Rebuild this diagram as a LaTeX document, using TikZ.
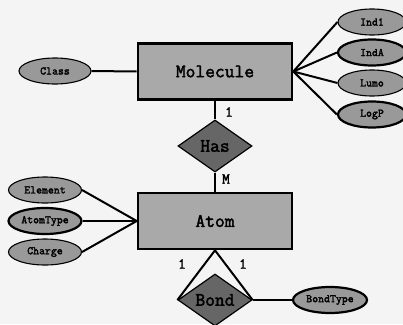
\documentclass[tikz,border=0pt]{standalone}
\usepackage{fontspec}
\newfontfamily\ermono[AutoFakeBold=2.2]{Latin Modern Mono}
\usetikzlibrary{shapes.geometric}
\definecolor{bgc}{HTML}{F4F4F4}
\definecolor{entfill}{HTML}{A9A9A9}
\definecolor{relfill}{HTML}{666666}
\definecolor{attfill}{HTML}{999999}
\tikzset{
  entity/.style={draw=black, line width=2.6pt, fill=entfill, minimum width=154pt, minimum height=56pt, inner sep=0pt, font=\ermono\bfseries\fontsize{19}{19}\selectfont},
  relation/.style={draw=black, line width=1.2pt, fill=relfill, shape=diamond, minimum width=74pt, minimum height=52pt, inner sep=0pt, aspect=1.42, font=\ermono\bfseries\fontsize{19}{19}\selectfont},
  attr/.style={draw=black, line width=1.1pt, fill=attfill, shape=ellipse, minimum width=72pt, minimum height=26pt, inner sep=0pt, font=\ermono\bfseries\fontsize{11.5}{11.5}\selectfont},
  keyattr/.style={attr, line width=2.2pt},
  link/.style={draw=black, line width=2pt},
  card/.style={font=\ermono\bfseries\fontsize{15}{15}\selectfont, inner sep=0pt}
}
\begin{document}
\begin{tikzpicture}[x=1pt,y=-1pt]
\fill[bgc] (0,0) rectangle (403,324);
\useasboundingbox (0,0) rectangle (403,324);
% entities
\node[entity] (mol) at (215,71.5) {Molecule};
\node[entity] (atom) at (215,221) {Atom};
% relations
\node[relation] (has) at (215,146) {Has};
\node[relation] (bond) at (215,300) {Bond};
% attributes
\node[attr] (class) at (55,71) {Class};
\node[attr, minimum width=68pt] (ind1) at (372,22) {Ind1};
\node[keyattr, minimum width=68pt] (inda) at (372,52.5) {IndA};
\node[attr, minimum width=68pt] (lumo) at (372,83) {Lumo};
\node[keyattr, minimum width=68pt] (logp) at (372,114.5) {LogP};
\node[attr, minimum width=73pt] (elem) at (45,190) {Element};
\node[keyattr, minimum width=73pt] (atype) at (45,221) {AtomType};
\node[attr, minimum width=73pt] (charge) at (45,252) {Charge};
\node[keyattr, minimum width=74pt] (btype) at (330,300) {BondType};
% connectors
\draw[link] (class.east) -- (mol.west);
\draw[link] (mol.east) -- (ind1.west);
\draw[link] (mol.east) -- (inda.west);
\draw[link] (mol.east) -- (lumo.west);
\draw[link] (mol.east) -- (logp.west);
\draw[link] (mol.south) -- (has.north);
\draw[link] (has.south) -- (atom.north);
\draw[link] (atom.west) -- (elem.east);
\draw[link] (atom.west) -- (atype.east);
\draw[link] (atom.west) -- (charge.east);
\draw[link] (atom.south) -- (bond.west);
\draw[link] (atom.south) -- (bond.east);
\draw[link] (bond.east) -- (btype.west);
% cardinalities
\node[card] (c1) at (229,112) {1};
\node[card] (cm) at (226,179) {M};
\node[card] (c2) at (182,264) {1};
\node[card] (c3) at (243,264) {1};
\end{tikzpicture}
\end{document}
